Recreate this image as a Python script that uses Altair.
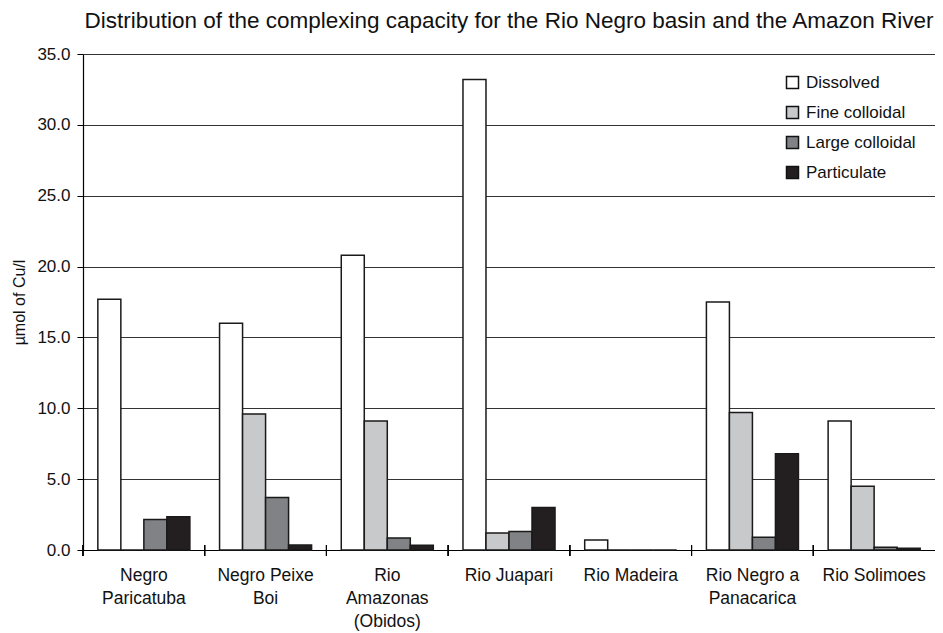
import altair as alt
import pandas as pd

sites = ["Negro|Paricatuba", "Negro Peixe|Boi", "Rio|Amazonas|(Obidos)", "Rio Juapari",
         "Rio Madeira", "Rio Negro a|Panacarica", "Rio Solimoes"]
fractions = ["Dissolved", "Fine colloidal", "Large colloidal", "Particulate"]
dissolved = [17.7, 16.0, 20.8, 33.2, 0.7, 17.5, 9.1]
fine_colloidal = [0.0, 9.6, 9.1, 1.2, 0.0, 9.7, 4.5]
large_colloidal = [2.15, 3.7, 0.85, 1.3, 0.0, 0.9, 0.2]
particulate = [2.35, 0.35, 0.33, 3.0, 0.0, 6.8, 0.12]
colors = ["#ffffff", "#c8c9cb", "#808285", "#231f20"]
y_ticks = [0, 5, 10, 15, 20, 25, 30, 35]

rows = []
for series_name, vals in zip(fractions, [dissolved, fine_colloidal, large_colloidal, particulate]):
    for s, v in zip(sites, vals):
        rows.append({"site": s, "fraction": series_name, "value": v})
df = pd.DataFrame(rows)

FONT = "Liberation Sans, Arial, sans-serif"
W, H = 852, 496

x_scale = alt.Scale(domain=sites, paddingInner=0, paddingOuter=0)

bars = alt.Chart(df).mark_bar(stroke="#1a1a1a", strokeWidth=1.5).encode(
    x=alt.X("site:N", scale=x_scale, sort=sites,
            axis=alt.Axis(title=None, labelAngle=0, ticks=False, domainColor="#000",
                          domainWidth=1.2, labelFont=FONT, labelFontSize=17.5,
                          labelColor="#111", labelLineHeight=23, labelPadding=16,
                          labelBaseline="top",
                          labelExpr="split(datum.label, '|')")),
    xOffset=alt.XOffset("fraction:N", sort=fractions,
                        scale=alt.Scale(domain=fractions, paddingInner=0, paddingOuter=0.645)),
    y=alt.Y("value:Q", scale=alt.Scale(domain=[0, 35], nice=False),
            axis=alt.Axis(title="µmol of Cu/l", values=y_ticks, format=".1f",
                          grid=True, gridColor="#333", gridWidth=1,
                          domainColor="#000", domainWidth=1.2,
                          tickColor="#000", tickSize=6, labelPadding=7,
                          labelFont=FONT, labelFontSize=17, labelColor="#111",
                          titleFont=FONT, titleFontSize=16, titleFontWeight="normal",
                          titleColor="#111", titlePadding=9)),
    fill=alt.Fill("fraction:N", sort=fractions,
                  scale=alt.Scale(domain=fractions, range=colors),
                  legend=alt.Legend(title=None, orient="none", legendX=701, legendY=20,
                                    symbolType="square", symbolSize=144,
                                    symbolStrokeColor="#111", symbolStrokeWidth=1.5,
                                    labelFont=FONT, labelFontSize=17, labelColor="#111",
                                    labelOffset=5, rowPadding=11, padding=0)),
)

ticks = alt.Chart(df).mark_rule(color="#000", strokeWidth=1).encode(
    x=alt.X("site:N", scale=x_scale, sort=sites, bandPosition=0),
    y=alt.value(H - 5),
    y2=alt.value(H + 6),
)

chart = alt.layer(bars, ticks).properties(
    width=W, height=H,
    title=alt.TitleParams("Distribution of the complexing capacity for the Rio Negro basin and the Amazon River",
                          font=FONT, fontSize=22.5, fontWeight="normal", color="#111",
                          anchor="middle", offset=13),
    autosize=alt.AutoSizeParams(type="none"),
    padding={"left": 75, "top": 46, "right": 0, "bottom": 82},
).configure_view(stroke=None)

chart.save("out.html", embed_options={"renderer": "svg", "actions": False})
